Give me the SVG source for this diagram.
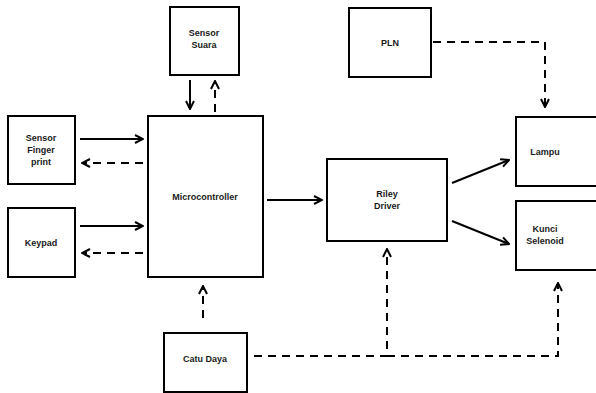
<svg xmlns="http://www.w3.org/2000/svg" width="596" height="393" viewBox="0 0 596 393">
<style>
.box{fill:#fff;stroke:#000;stroke-width:2}
.t{font-family:"Liberation Sans",Arial,sans-serif;font-weight:bold;font-size:9px;fill:#1a1a1a;text-anchor:middle}
.s{fill:none;stroke:#000;stroke-width:2}
.d{fill:none;stroke:#000;stroke-width:2;stroke-dasharray:8 6}
</style>
<defs>
<marker id="ah" viewBox="0 0 10 10" refX="9" refY="5" markerWidth="5" markerHeight="5" orient="auto" markerUnits="strokeWidth">
<path d="M1,1 L9,5 L1,9" fill="none" stroke="#000" stroke-width="2"/>
</marker>
</defs>
<rect width="596" height="393" fill="#fff"/>
<g id="finger"><rect class="box" x="8" y="116" width="67" height="68"/><text class="t" x="41" y="141">Sensor</text><text class="t" x="41" y="153">Finger</text><text class="t" x="41" y="165">print</text></g>
<g id="keypad"><rect class="box" x="8" y="208" width="67" height="69"/><text class="t" x="41" y="246">Keypad</text></g>
<g id="micro"><rect class="box" x="148" y="116" width="115" height="161"/><text class="t" x="205" y="200">Microcontroller</text></g>
<g id="suara"><rect class="box" x="170" y="7" width="69" height="68"/><text class="t" x="204" y="36">Sensor</text><text class="t" x="204" y="48">Suara</text></g>
<g id="catu"><rect class="box" x="164" y="333" width="83" height="59"/><text class="t" x="205" y="362">Catu Daya</text></g>
<g id="pln"><rect class="box" x="349" y="8" width="82" height="69"/><text class="t" x="390" y="46">PLN</text></g>
<g id="riley"><rect class="box" x="327" y="159" width="120" height="82"/><text class="t" x="387" y="197">Riley</text><text class="t" x="387" y="209">Driver</text></g>
<g id="lampu"><rect class="box" x="516" y="117" width="90" height="69"/><text class="t" x="545" y="155">Lampu</text></g>
<g id="kunci"><rect class="box" x="516" y="201" width="90" height="69"/><text class="t" x="545" y="232">Kunci</text><text class="t" x="545" y="244">Selenoid</text></g>
<g id="connectors">
<line class="s" x1="80" y1="139" x2="143" y2="139" marker-end="url(#ah)"/>
<line class="d" x1="143" y1="163" x2="82" y2="163" marker-end="url(#ah)"/>
<line class="s" x1="80" y1="226" x2="143" y2="226" marker-end="url(#ah)"/>
<line class="d" x1="143" y1="253" x2="82" y2="253" marker-end="url(#ah)"/>
<line class="s" x1="190" y1="80" x2="190" y2="109" marker-end="url(#ah)"/>
<line class="d" x1="215" y1="112" x2="215" y2="81" marker-end="url(#ah)"/>
<line class="d" x1="203" y1="318" x2="203" y2="286" marker-end="url(#ah)"/>
<line class="s" x1="267" y1="200" x2="322" y2="200" marker-end="url(#ah)"/>
<line class="s" x1="452" y1="183" x2="509" y2="160" marker-end="url(#ah)"/>
<line class="s" x1="452" y1="221" x2="509" y2="244" marker-end="url(#ah)"/>
<path class="d" d="M433,42 H545 V107" marker-end="url(#ah)"/>
<path class="d" d="M254,356 H387 V249" marker-end="url(#ah)"/>
<path class="d" d="M387,356 H558 V283" marker-end="url(#ah)"/>
</g>
</svg>
